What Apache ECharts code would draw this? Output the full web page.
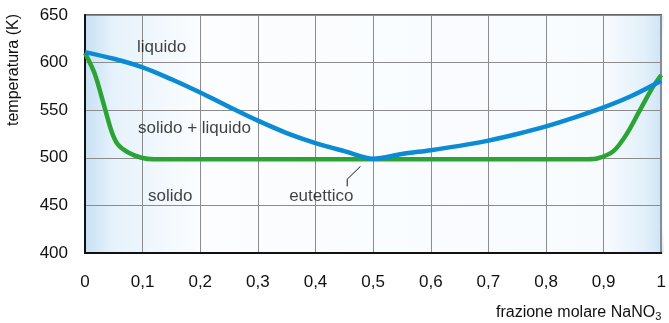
<!DOCTYPE html>
<html>
<head>
<meta charset="utf-8">
<script src="https://cdn.jsdelivr.net/npm/echarts@6/dist/echarts.min.js"></script>
<style>
  html, body { margin: 0; padding: 0; background: #ffffff; }
  #chart { width: 669px; height: 323px; }
</style>
</head>
<body>
<div id="chart"></div>
<script>
// Phase diagram (temperature vs mole fraction of NaNO3)
const liquidusX = [0, 0.05, 0.1, 0.15, 0.2, 0.25, 0.3, 0.35, 0.4, 0.45, 0.5, 0.55, 0.6, 0.65, 0.7, 0.75, 0.8, 0.85, 0.9, 0.95, 1];
const liquidusT = [611, 604, 595, 582.5, 568.5, 553.5, 539, 526, 515.5, 507, 499, 504, 508, 512.5, 518, 525, 533, 542.5, 553, 565.5, 581];

const solidusX = [0, 0.017, 0.034, 0.046, 0.057, 0.075, 0.098, 0.12, 0.3, 0.5, 0.7, 0.87, 0.89, 0.917, 0.94, 0.962, 0.985, 1];
const solidusT = [610, 588, 553, 528, 514, 505.5, 500, 498.5, 498.5, 498.5, 498.5, 498.5, 499.5, 507, 525, 549, 574, 587];

const xTicks = [0, 0.1, 0.2, 0.3, 0.4, 0.5, 0.6, 0.7, 0.8, 0.9, 1];
const yTicks = [400, 450, 500, 550, 600, 650];

const FONT = "'Liberation Sans', Arial, Helvetica, sans-serif";
const G = { left: 85, right: 5, top: 15, bottom: 70 };

const pair = (xs, ys) => xs.map((x, i) => [x, ys[i]]);

const chart = echarts.init(document.getElementById('chart'), null, { renderer: 'canvas' });

chart.setOption({
  animation: false,
  grid: {
    left: G.left, right: G.right, top: G.top, bottom: G.bottom,
    show: true,
    borderColor: '#333',
    borderWidth: 1.5,
    backgroundColor: {
      type: 'linear', x: 0, y: 0, x2: 1, y2: 0,
      colorStops: [
        { offset: 0, color: '#c6e0f3' },
        { offset: 0.05, color: '#e6f2fb' },
        { offset: 0.2, color: '#fbfdff' },
        { offset: 0.9, color: '#f8fbfe' },
        { offset: 0.97, color: '#e2f0fa' },
        { offset: 1, color: '#cde4f5' }
      ]
    }
  },
  graphic: [
    {
      type: 'rect',
      silent: true,
      z: -1,
      shape: { x: G.left, y: G.top, width: 669 - G.left - G.right, height: 323 - G.top - G.bottom },
      style: {
        fill: {
          type: 'linear', x: 0, y: 0, x2: 0, y2: 1,
          colorStops: [
            { offset: 0, color: 'rgba(190,220,242,0.35)' },
            { offset: 0.1, color: 'rgba(190,220,242,0)' },
            { offset: 0.88, color: 'rgba(190,220,242,0)' },
            { offset: 1, color: 'rgba(190,220,242,0.45)' }
          ]
        }
      }
    },
    {
      type: 'text',
      silent: true,
      x: 6, y: 126,
      rotation: Math.PI / 2,
      style: {
        text: 'temperatura (K)',
        fontFamily: FONT, fontSize: 16, fill: '#111',
        align: 'left', verticalAlign: 'top'
      }
    }
  ],
  xAxis: {
    type: 'value',
    min: xTicks[0], max: xTicks[xTicks.length - 1], interval: 0.1,
    name: '{n|frazione molare NaNO}{s|3}',
    nameLocation: 'end',
    nameGap: 0,
    nameTextStyle: {
      align: 'right', verticalAlign: 'top', padding: [50, 0, 0, 0],
      rich: {
        n: { fontFamily: FONT, fontSize: 16, color: '#111' },
        s: { fontFamily: FONT, fontSize: 11, color: '#111', verticalAlign: 'bottom', padding: [8, 0, 0, 0] }
      }
    },
    axisLine: { show: true, onZero: false, lineStyle: { color: '#111', width: 2 } },
    axisTick: { show: false },
    axisLabel: {
      margin: 21, fontFamily: FONT, fontSize: 17, color: '#111',
      formatter: v => String(Math.round(v * 10) / 10).replace('.', ',')
    },
    splitLine: { show: true, lineStyle: { color: '#8c8c8c', width: 1 } }
  },
  yAxis: {
    type: 'value',
    min: yTicks[0], max: yTicks[yTicks.length - 1], interval: 50,
    axisLine: { show: true, onZero: false, lineStyle: { color: '#111', width: 2 } },
    axisTick: { show: false },
    axisLabel: { margin: 17, fontFamily: FONT, fontSize: 17, color: '#111' },
    splitLine: { show: true, lineStyle: { color: '#8c8c8c', width: 1 } }
  },
  series: [
    {
      name: 'solidus',
      type: 'line',
      data: pair(solidusX, solidusT),
      smooth: 0.3,
      symbol: 'none',
      z: 3,
      lineStyle: { color: '#2ba335', width: 4.5 }
    },
    {
      name: 'liquidus',
      type: 'line',
      data: pair(liquidusX, liquidusT),
      smooth: 0.3,
      symbol: 'none',
      z: 4,
      lineStyle: { color: '#0b8bd3', width: 4.5 }
    },
    {
      name: 'leader',
      type: 'line',
      data: [[0.455, 470], [0.455, 477.5], [0.478, 491]],
      symbol: 'none',
      z: 5,
      lineStyle: { color: '#111', width: 1 }
    },
    {
      name: 'regions',
      type: 'scatter',
      symbolSize: 0,
      z: 6,
      label: {
        show: true, position: 'inside', fontFamily: FONT, fontSize: 17, color: '#111',
        formatter: p => p.data.text
      },
      data: [
        { value: [0.133, 616], text: 'liquido' },
        { value: [0.19, 531], text: 'solido + liquido' },
        { value: [0.148, 460], text: 'solido' },
        { value: [0.41, 460], text: 'eutettico' }
      ]
    }
  ]
});
</script>
</body>
</html>
